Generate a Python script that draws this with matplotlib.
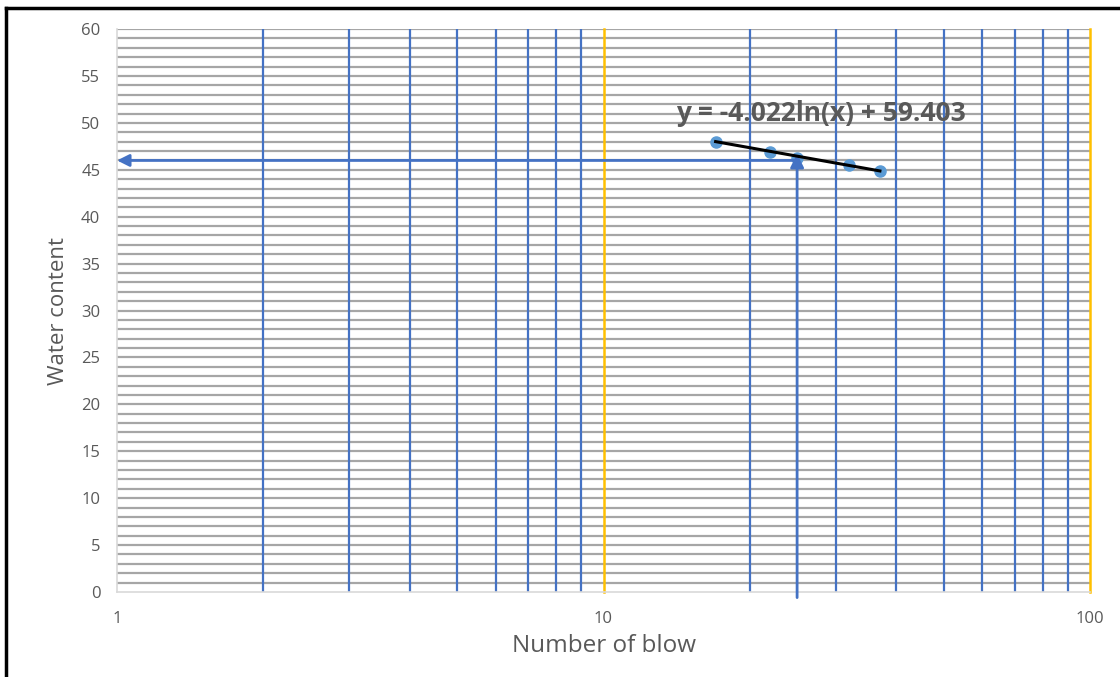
import numpy as np
import matplotlib.pyplot as plt
from matplotlib.lines import Line2D

# данные: число ударов и влажность
blows = [17, 22, 25, 32, 37]
water = [48.0, 46.9, 46.3, 45.5, 44.9]

# линия тренда y = a*ln(x) + b
a, b = -4.022, 59.403
trend_x = np.array([17, 37])
trend_y = a * np.log(trend_x) + b

# N = 25 -> влажность
n25 = 25
w25 = 46.0

minor_x = [2, 3, 4, 5, 6, 7, 8, 9, 20, 30, 40, 50, 60, 70, 80, 90]
major_x = [10, 100]

plt.rcParams['font.family'] = ['Open Sans', 'DejaVu Sans']

fig = plt.figure(figsize=(11.2, 6.77), dpi=100)
ax = fig.add_axes([0.1045, 0.1256, 0.8687, 0.8314])

ax.set_xscale('log')
ax.set_xlim(1, 100)
ax.set_ylim(0, 60)

# горизонтальная сетка через 1
for y in range(1, 61):
    ax.axhline(y, color='#A6A6A6', lw=1.6, zorder=1)
for x in minor_x:
    ax.axvline(x, color='#4472C4', lw=1.6, zorder=2)
for x in major_x:
    ax.axvline(x, color='#FFC000', lw=1.8, zorder=2, clip_on=False)

for s in ['top', 'right']:
    ax.spines[s].set_visible(False)
for s in ['left', 'bottom']:
    ax.spines[s].set_color('#D9D9D9')
    ax.spines[s].set_linewidth(1.2)

ax.plot(blows, water, 'o', color='#5B9BD5', ms=8, zorder=3)

# стрелки
ax.annotate('', xy=(n25, w25 + 0.7), xytext=(n25, -0.6),
            arrowprops=dict(arrowstyle='-|>', color='#4472C4', lw=2,
                            mutation_scale=20, shrinkA=0, shrinkB=0),
            annotation_clip=False, zorder=4)
ax.annotate('', xy=(1, w25), xytext=(n25, w25),
            arrowprops=dict(arrowstyle='-|>', color='#4472C4', lw=2,
                            mutation_scale=18, shrinkA=0, shrinkB=0),
            zorder=4)

ax.plot(trend_x, trend_y, color='black', lw=2.2, zorder=5)

ax.text(28, 51.0, 'y = -4.022ln(x) + 59.403',
        ha='center', va='center', fontsize=19, fontweight='bold',
        color='#595959', zorder=6)

ax.set_xticks([1, 10, 100])
ax.set_xticklabels(['1', '10', '100'])
ax.xaxis.set_minor_locator(plt.NullLocator())
ax.set_yticks(range(0, 61, 5))
ax.tick_params(axis='both', length=0, labelsize=12, colors='#595959')
ax.tick_params(axis='x', pad=14)
ax.tick_params(axis='y', pad=12)

ax.set_xlabel('Number of blow', fontsize=17.5, color='#595959', labelpad=5)
ax.set_ylabel('Water content', fontsize=16, color='#595959', labelpad=9)

# рамка рисунка (только сверху и слева)
fig.add_artist(Line2D([0.0055, 1], [0.988, 0.988], color='black', lw=2.5,
                      transform=fig.transFigure))
fig.add_artist(Line2D([0.0055, 0.0055], [0, 0.988], color='black', lw=2.5,
                      transform=fig.transFigure))

fig.savefig('out.png', dpi=100)
